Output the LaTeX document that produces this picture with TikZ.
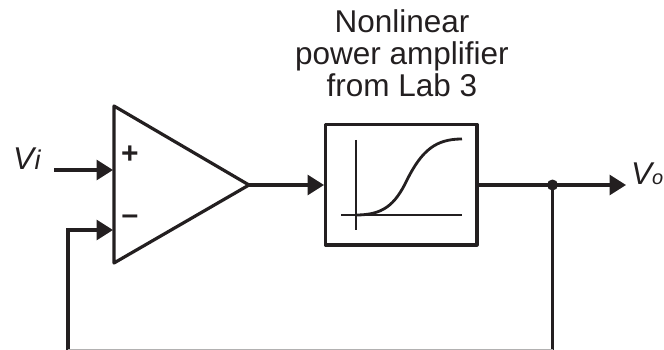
\documentclass[tikz,border=0pt]{standalone}
\usepackage{fontspec}
\setmainfont{Liberation Sans}
\usetikzlibrary{arrows.meta}
\definecolor{ink}{HTML}{231F20}
\tikzset{
  x=1pt,y=-1pt,
  wire/.style={draw=ink,line width=3.2pt},
  sig/.style={wire,-{Triangle[length=16.5pt,width=20pt,fill=ink]}},
  plotline/.style={draw=ink,line width=2.8pt},
  lbl/.style={text=ink,font=\fontsize{31.5}{32}\selectfont,inner sep=0pt,outer sep=0pt},
  sym/.style={text=ink,font=\fontsize{30}{30}\selectfont\bfseries,inner sep=0pt},
  port/.style={inner sep=0pt,minimum size=0pt}
}
\begin{document}
\begin{tikzpicture}
\useasboundingbox (0,0) rectangle (664,350);
\draw[wire,line join=round] (114,106) -- (249,185) -- (114,263) -- cycle;
\draw[wire,line join=round] (325.5,124.5) rectangle (477,245);
\coordinate (ampout) at (249,185);
\coordinate (boxin) at (324,185);
\coordinate (boxout) at (477,185);
\coordinate (plus) at (113,170);
\coordinate (minus) at (113,230);
\coordinate (vistart) at (54,170);
\coordinate (fbl) at (68,349);
\coordinate (fbr) at (552.5,349);
\coordinate (fbup) at (68,230);
\coordinate (vo) at (626,185);
\node[port,circle,fill=ink,minimum size=11pt] (dot) at (552.5,185) {};
\draw[sig] (vistart) -- (plus);
\draw[sig] (ampout) -- (boxin);
\draw[sig] (boxout) -- (vo);
\draw[wire] (dot.center) -- (552.5,350);
\draw[sig] (68,350) -- (fbup) -- (minus);
\draw[draw=ink!35,line width=1pt] (fbl) -- (fbr);
\draw[plotline] (356,140) -- (356,230);
\draw[plotline] (341,215) -- (462,215);
\draw[plotline] (356,215) .. controls (383,215) and (395,205) .. (407,180) .. controls (422,150) and (436,139) .. (462,139);
\node[lbl,anchor=base] (t1) at (402,33) {Nonlinear};
\node[lbl,anchor=base] (t2) at (402,65) {power amplifier};
\node[lbl,anchor=base] (t3) at (402,97) {from Lab 3};
\node[lbl,anchor=base west] (vi) at (13,170) {\itshape V\kern0.5pt\fontsize{27}{27}\selectfont i};
\node[lbl,anchor=base west] (vout) at (631,185) {\itshape V\fontsize{20}{20}\selectfont o};
\node[sym] (p) at (130,155) {+};
\node[sym] (m) at (130,220) {\textendash};
\end{tikzpicture}
\end{document}
